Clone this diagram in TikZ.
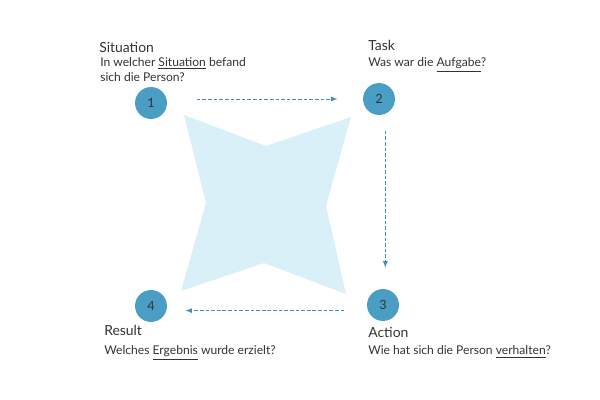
\documentclass[tikz,border=0pt]{standalone}
\usepackage{fontspec}
\setmainfont{Lato}
\definecolor{stepblue}{HTML}{4A9EC4}
\definecolor{starblue}{HTML}{DAF0F8}
\definecolor{flowblue}{HTML}{3F8FB8}
\definecolor{textgray}{HTML}{333333}
\tikzset{
  stepcircle/.style={circle,fill=stepblue,minimum size=22.7pt,inner sep=0pt,text=textgray,font=\fontsize{9}{10}\selectfont},
  heading/.style={anchor=base west,inner sep=0pt,text=textgray,font=\fontsize{9.9}{11}\selectfont},
  question/.style={anchor=base west,inner sep=0pt,text=textgray,align=left,font=\fontsize{8.6}{9.8}\selectfont},
  flow/.style={->,>=latex,flowblue,line width=0.6pt,dash pattern=on 2.6pt off 1.4pt}
}
\begin{document}
\begin{tikzpicture}[x=0.025cm,y=-0.025cm]
    \useasboundingbox (0,0) rectangle (600,400);
    % star in the middle
    \fill[starblue] (184,115) -- (266,146) -- (351,117) -- (326,206)
        -- (346,294) -- (264,263) -- (181,291) -- (206,203) -- cycle;
    % the four steps
    \node[stepcircle] (s1) at (151,103) {1};
    \node[stepcircle] (s2) at (379,99) {2};
    \node[stepcircle] (s3) at (383,305) {3};
    \node[stepcircle] (s4) at (151,306) {4};
    % labels
    \node[heading] (h1) at (99,53) {Situation};
    \node[question] (q1) at (100,82) {In welcher \underline{Situation} befand\\[1.5pt]sich die Person?};
    \node[heading] (h2) at (368,51) {Task};
    \node[question] (q2) at (368,67) {Was war die \underline{Aufgabe}?};
    \node[heading] (h3) at (368,337) {Action};
    \node[question] (q3) at (368,355) {Wie hat sich die Person \underline{verhalten}?};
    \node[heading] (h4) at (104,336) {Result};
    \node[question] (q4) at (104,355) {Welches \underline{Ergebnis} wurde erzielt?};
    % arrows
    \draw[flow,shorten <=21pt,shorten >=18pt] (s1.east |- s2.west) -- (s2.west);
    \draw[flow,shorten <=11pt,shorten >=15pt] ([xshift=4.5pt]s2.south) -- ([xshift=4.5pt]s2.south |- s3.north);
    \draw[flow,shorten <=16pt,shorten >=13pt] ([yshift=-4pt]s3.west) -- ([yshift=-4pt]s3.west -| s4.east);
\end{tikzpicture}
\end{document}
